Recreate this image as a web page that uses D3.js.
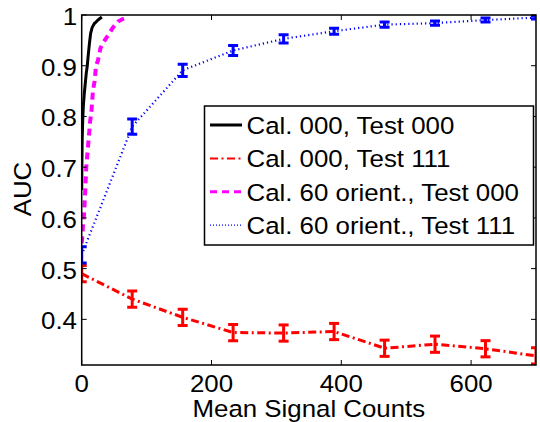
<!DOCTYPE html>
<html><head><meta charset="utf-8">
<script src="https://cdn.jsdelivr.net/npm/d3@7"></script>
<style>body{margin:0;background:#fff}svg{display:block}text{font-family:"Liberation Sans",Arial,sans-serif}</style>
</head><body><svg id="c" width="540" height="422"></svg>
<script>
// ---- data ----
const seriesNames = ["Cal. 000, Test 000","Cal. 000, Test 111","Cal. 60 orient., Test 000","Cal. 60 orient., Test 111"];
const gridCounts = [0, 77.8, 155.6, 233.3, 311.1, 388.9, 466.7, 544.4, 622.2, 700];
const redAUC   = [0.490, 0.440, 0.404, 0.374, 0.373, 0.376, 0.343, 0.351, 0.342, 0.328];
const redErr   = [0.016, 0.016, 0.016, 0.016, 0.016, 0.016, 0.016, 0.016, 0.016, 0.016];
const blueAUC  = [0.527, 0.780, 0.891, 0.930, 0.953, 0.968, 0.981, 0.984, 0.990, 0.995];
const blueErr  = [0.016, 0.015, 0.012, 0.010, 0.008, 0.006, 0.005, 0.004, 0.004, 0.003];
const blackCounts = [0, 0.3, 0.7, 1.5, 2.5, 4, 5.5, 7, 8.6, 10, 12, 13.8, 16, 18, 20, 22, 25, 28, 31];
const blackAUC    = [0.655, 0.70, 0.75, 0.79, 0.82, 0.845, 0.865, 0.885, 0.90, 0.92, 0.945, 0.964, 0.975, 0.98, 0.984, 0.986, 0.99, 0.993, 0.996];
const magentaCounts = [0, 1, 2, 3.5, 5.5, 7, 9, 11, 13, 15, 17.4, 20, 22, 25, 29, 33, 38, 43, 48, 56, 63, 70];
const magentaAUC    = [0.55, 0.565, 0.585, 0.605, 0.655, 0.70, 0.73, 0.76, 0.79, 0.81, 0.852, 0.87, 0.90, 0.91, 0.935, 0.945, 0.955, 0.965, 0.975, 0.987, 0.992, 0.995];
const xTicks = [0, 200, 400, 600];
const yTicks = [0.4, 0.5, 0.6, 0.7, 0.8, 0.9, 1];

// ---- layout ----
const L = 81.7, R = 536, T = 15, B = 365;
const x = d3.scaleLinear().domain([0, 700]).range([L, R]);
const y = d3.scaleLinear().domain([0.31, 1]).range([B, T]);
const svg = d3.select("#c");
const FS = 23.5, SX = 1.1;

function txt(parent, tx, ty, s, anchor, rot){
  return parent.append("text")
    .attr("transform", `translate(${tx},${ty})` + (rot ? ` rotate(${rot})` : "") + ` scale(${SX},1)`)
    .attr("text-anchor", anchor || "start").attr("font-size", FS).text(s);
}

svg.append("defs").append("clipPath").attr("id","clip")
  .append("rect").attr("x",L).attr("y",T).attr("width",R-L).attr("height",B-T);
const g = svg.append("g").attr("clip-path","url(#clip)");
const line = d3.line().x(d=>x(d[0])).y(d=>y(d[1]));

const styles = [
  {color:"#000000", dash:null, w:3},
  {color:"#ff0000", dash:"8,3.5,2,3.5", w:3},
  {color:"#ff00ff", dash:"7,5", w:4},
  {color:"#0000ff", dash:"1.2,3", w:2.2}
];

function drawLine(xs, ys, s){
  g.append("path").datum(xs.map((v,i)=>[v,ys[i]]))
   .attr("d", line).attr("fill","none").attr("stroke",s.color)
   .attr("stroke-width",s.w).attr("stroke-dasharray",s.dash);
}
function drawErr(xs, ys, es, color){
  xs.forEach((v,i)=>{
    const cx = x(v), y0 = y(ys[i]-es[i]), y1 = y(ys[i]+es[i]);
    g.append("line").attr("x1",cx).attr("x2",cx).attr("y1",y0).attr("y2",y1).attr("stroke",color).attr("stroke-width",3);
    [y0,y1].forEach(yy=>g.append("line").attr("x1",cx-5).attr("x2",cx+5).attr("y1",yy).attr("y2",yy).attr("stroke",color).attr("stroke-width",3));
  });
}
drawLine(gridCounts, redAUC, styles[1]);
drawErr(gridCounts, redAUC, redErr, styles[1].color);
drawLine(gridCounts, blueAUC, styles[3]);
drawErr(gridCounts, blueAUC, blueErr, styles[3].color);
drawLine(magentaCounts, magentaAUC, styles[2]);
drawLine(blackCounts, blackAUC, styles[0]);

// ---- axes (box with inward ticks) ----
const ax = svg.append("g");
ax.append("rect").attr("x",L).attr("y",T).attr("width",R-L).attr("height",B-T)
  .attr("fill","none").attr("stroke","#000").attr("stroke-width",1.5);
xTicks.forEach(t=>{
  ax.append("line").attr("x1",x(t)).attr("x2",x(t)).attr("y1",B).attr("y2",B-5).attr("stroke","#000").attr("stroke-width",1);
  ax.append("line").attr("x1",x(t)).attr("x2",x(t)).attr("y1",T).attr("y2",T+5).attr("stroke","#000").attr("stroke-width",1);
  txt(ax, x(t), 391.5, t, "middle");
});
yTicks.forEach(t=>{
  ax.append("line").attr("x1",L).attr("x2",L+5).attr("y1",y(t)).attr("y2",y(t)).attr("stroke","#000").attr("stroke-width",1);
  ax.append("line").attr("x1",R).attr("x2",R-5).attr("y1",y(t)).attr("y2",y(t)).attr("stroke","#000").attr("stroke-width",1);
  txt(ax, 77, y(t)+10, t===1 ? "1" : d3.format(".1f")(t), "end");
});
txt(ax, (L+R)/2, 417, "Mean Signal Counts", "middle");
ax.append("text").attr("transform","translate(31,189) rotate(-90) scale(1.1,1)").attr("text-anchor","middle").attr("font-size",FS).text("AUC");

// ---- legend ----
const lg = svg.append("g");
lg.append("rect").attr("x",204.5).attr("y",106).attr("width",329).attr("height",139)
  .attr("fill","#fff").attr("stroke","#000").attr("stroke-width",1.5);
seriesNames.forEach((n,i)=>{
  const by = 134 + i*33.4;
  const s = styles[i];
  lg.append("line").attr("x1",210).attr("x2",242).attr("y1",by-9).attr("y2",by-9)
    .attr("stroke",s.color).attr("stroke-width", i===3 ? 1.2 : (i===1 ? 2 : 3))
    .attr("stroke-dasharray", i===3 ? "1,2" : s.dash);
  txt(lg, 246.5, by, n, "start");
});
</script></body></html>
